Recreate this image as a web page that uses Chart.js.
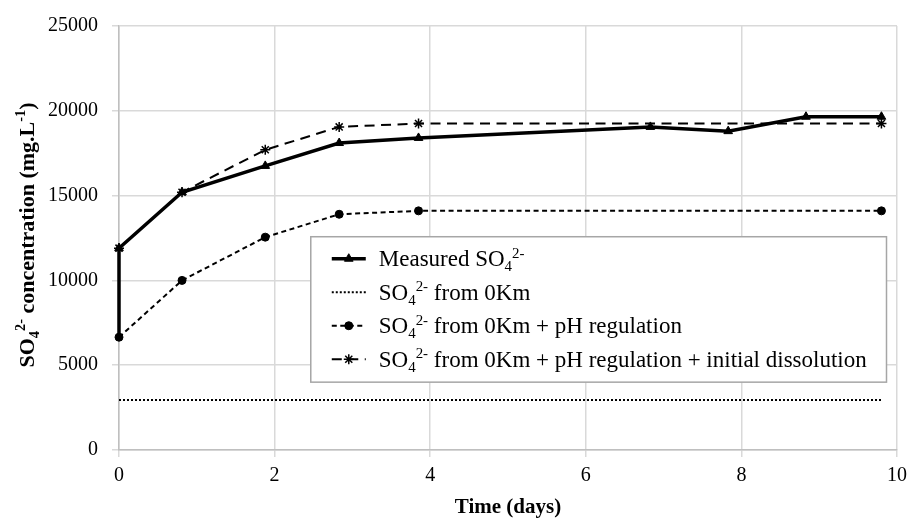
<!DOCTYPE html>
<html><head><meta charset="utf-8">
<script src="https://cdn.jsdelivr.net/npm/chart.js@4/dist/chart.umd.min.js"></script>
<style>html,body{margin:0;padding:0;background:#fff}#wrap{width:914px;height:520px}</style>
</head><body><div id="wrap"><canvas id="c" width="914" height="520"></canvas></div>
<script>
// ---- data ----
const timeMeasured = [0, 0, 0.81, 1.88, 2.83, 3.85, 6.83, 7.83, 8.83, 9.8];
const measured = [6650, 11900, 15200, 16750, 18100, 18400, 19050, 18800, 19650, 19650];
const time0Km = [0, 9.8];
const from0Km = [2950, 2950];
const timeModel = [0, 0.81, 1.88, 2.83, 3.85, 9.8];
const withPH = [6650, 10000, 12550, 13900, 14100, 14100];
const withDissolution = [11900, 15200, 17700, 19050, 19250, 19250];
const xTickValues = [0, 2, 4, 6, 8, 10];
const yTickValues = [0, 5000, 10000, 15000, 20000, 25000];
const legendTexts = [
  [["Measured SO", ""], ["4", "sub"], ["2-", "sup"]],
  [["SO", ""], ["4", "sub"], ["2-", "sup"], [" from 0Km", ""]],
  [["SO", ""], ["4", "sub"], ["2-", "sup"], [" from 0Km + pH regulation", ""]],
  [["SO", ""], ["4", "sub"], ["2-", "sup"], [" from 0Km + pH regulation + initial dissolution", ""]]
];
const yTitle = [["SO", ""], ["4", "sub"], ["2-", "sup"], [" concentration (mg.L", ""], ["-1", "sup"], [")", ""]];
const xTitle = "Time (days)";

const SERIF = "'Liberation Serif','Times New Roman',serif";
const pts = (xs, ys) => xs.map((x, i) => ({x: x, y: ys[i]}));

function richWidth(ctx, segs, size, bold) {
  let w = 0;
  for (const [t, k] of segs) {
    const s = k ? size * 0.65 : size;
    ctx.font = (bold ? "bold " : "") + s + "px " + SERIF;
    w += ctx.measureText(t).width;
  }
  return w;
}
function drawRich(ctx, segs, x, y, size, bold) {
  let cx = x;
  ctx.textBaseline = "alphabetic";
  ctx.textAlign = "left";
  for (const [t, k] of segs) {
    const s = k ? size * 0.65 : size;
    ctx.font = (bold ? "bold " : "") + s + "px " + SERIF;
    let dy = 0;
    if (k === "sub") dy = size * 0.22;
    if (k === "sup") dy = -size * 0.38;
    ctx.fillText(t, cx, y + dy);
    cx += ctx.measureText(t).width;
  }
}

const richPlugin = {
  id: "rich",
  afterDraw(chart) {
    const ctx = chart.ctx;
    const a = chart.chartArea;
    const o = chart.options.plugins.rich;
    ctx.save();
    ctx.fillStyle = "#000";
    ctx.translate(o.yTitleX, (a.top + a.bottom) / 2 - 3);
    ctx.rotate(-Math.PI / 2);
    const w = richWidth(ctx, yTitle, o.yTitleSize, true);
    drawRich(ctx, yTitle, -w / 2, o.yTitleSize * 0.35, o.yTitleSize, true);
    ctx.restore();

    ctx.save();
    const L = o.legend;
    const bx = a.left + L.x * (a.right - a.left);
    const by = a.top + L.y * (a.bottom - a.top);
    const bw = L.w * (a.right - a.left);
    const bh = L.h * (a.bottom - a.top);
    ctx.fillStyle = "#fff";
    ctx.fillRect(bx, by, bw, bh);
    ctx.strokeStyle = "#a6a6a6";
    ctx.lineWidth = 1.5;
    ctx.strokeRect(bx, by, bw, bh);
    chart.data.datasets.forEach((ds, i) => {
      const cy = by + L.firstRow + i * L.rowStep;
      const x0 = bx + L.symX;
      const x1 = x0 + L.symW;
      ctx.strokeStyle = ds.borderColor;
      ctx.lineWidth = ds.borderWidth;
      ctx.setLineDash(ds.borderDash || []);
      ctx.beginPath();
      ctx.moveTo(x0, cy);
      ctx.lineTo(x1, cy);
      ctx.stroke();
      ctx.setLineDash([]);
      if (ds.legendMarker > 0) {
        ctx.fillStyle = ds.pointBackgroundColor;
        ctx.strokeStyle = ds.pointBorderColor;
        ctx.lineWidth = ds.pointBorderWidth;
        Chart.helpers.drawPoint(ctx, {pointStyle: ds.pointStyle, radius: ds.legendMarker, rotation: 0, borderWidth: ds.pointBorderWidth}, (x0 + x1) / 2, cy);
      }
      ctx.fillStyle = "#000";
      drawRich(ctx, legendTexts[i], bx + L.textX, cy + L.size * 0.33, L.size, false);
    });
    ctx.restore();
  }
};

new Chart(document.getElementById("c"), {
  type: "line",
  data: {
    datasets: [
      {label: "Measured", data: pts(timeMeasured, measured), borderColor: "#000", borderWidth: 3.5, clip: false,
       pointStyle: "triangle", pointRadius: c => (c.dataIndex === 0 ? 0 : 5), legendMarker: 5,
       pointBackgroundColor: "#000", pointBorderColor: "#000", pointBorderWidth: 1, tension: 0},
      {label: "0Km", data: pts(time0Km, from0Km), borderColor: "#000", borderWidth: 2, borderDash: [2, 2], clip: false,
       pointRadius: 0, legendMarker: 0, pointStyle: "circle", pointBackgroundColor: "#000", pointBorderColor: "#000", pointBorderWidth: 1},
      {label: "pH", data: pts(timeModel, withPH), borderColor: "#000", borderWidth: 2, borderDash: [5, 3.5], clip: false,
       pointStyle: "circle", pointRadius: 4, legendMarker: 4, pointBackgroundColor: "#000", pointBorderColor: "#000", pointBorderWidth: 1},
      {label: "dissolution", data: pts(timeModel, withDissolution), borderColor: "#000", borderWidth: 2, borderDash: [10, 6.5], clip: false,
       pointStyle: "star", pointRadius: 5, legendMarker: 5, pointBackgroundColor: "#000", pointBorderColor: "#000", pointBorderWidth: 1.5}
    ]
  },
  options: {
    responsive: false,
    animation: false,
    devicePixelRatio: 1,
    layout: {padding: {left: 0, right: 12, top: 21, bottom: 0}},
    scales: {
      x: {
        type: "linear", min: 0, max: 10,
        afterBuildTicks: s => { s.ticks = xTickValues.map(v => ({value: v})); },
        afterFit: s => { s.height = 70; },
        grid: {color: "#d9d9d9", lineWidth: 1.5, tickLength: 7, drawTicks: true},
        border: {color: "#bfbfbf", width: 1.5},
        ticks: {color: "#000", font: {family: SERIF, size: 20}, padding: 7, maxRotation: 0},
        title: {display: true, text: xTitle, color: "#000", font: {family: SERIF, size: 21, weight: "bold"}, padding: {top: 4, bottom: 0}}
      },
      y: {
        type: "linear", min: 0, max: 25000,
        afterBuildTicks: s => { s.ticks = yTickValues.map(v => ({value: v})); },
        afterFit: s => { s.width = 119; },
        grid: {color: "#d9d9d9", lineWidth: 1.5, tickLength: 7},
        border: {color: "#bfbfbf", width: 1.5},
        ticks: {color: "#000", font: {family: SERIF, size: 20}, padding: 14, callback: v => String(v)}
      }
    },
    plugins: {
      legend: {display: false},
      tooltip: {enabled: false},
      rich: {
        yTitleX: 26, yTitleSize: 22,
        legend: {x: 0.2465, y: 0.497, w: 0.74, h: 0.343, firstRow: 22, rowStep: 33.5, symX: 21, symW: 34, textX: 68, size: 23}
      }
    }
  },
  plugins: [richPlugin]
});
</script></body></html>
